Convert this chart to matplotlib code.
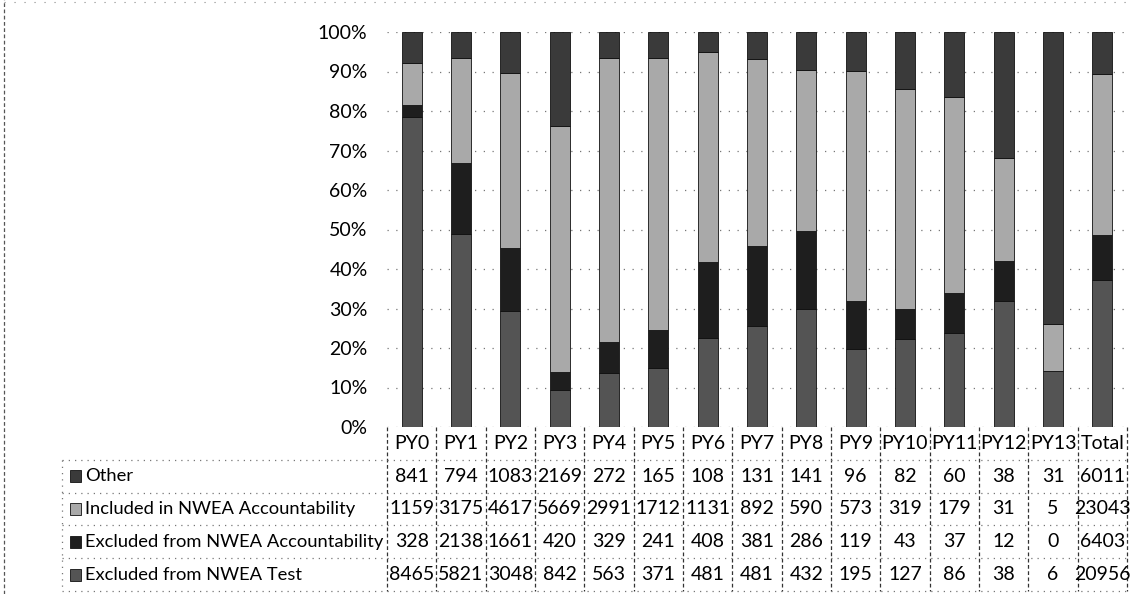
import numpy as np
import matplotlib.pyplot as plt
from matplotlib.patches import Rectangle
from matplotlib.lines import Line2D

plt.rcParams['font.family'] = ['Lato', 'DejaVu Sans']

periods = ['PY0', 'PY1', 'PY2', 'PY3', 'PY4', 'PY5', 'PY6', 'PY7',
           'PY8', 'PY9', 'PY10', 'PY11', 'PY12', 'PY13', 'Total']
other = [841, 794, 1083, 2169, 272, 165, 108, 131, 141, 96, 82, 60, 38, 31, 6011]
included = [1159, 3175, 4617, 5669, 2991, 1712, 1131, 892, 590, 573, 319, 179, 31, 5, 23043]
excl_acc = [328, 2138, 1661, 420, 329, 241, 408, 381, 286, 119, 43, 37, 12, 0, 6403]
excl_test = [8465, 5821, 3048, 842, 563, 371, 481, 481, 432, 195, 127, 86, 38, 6, 20956]

# bottom -> top stacking order
series = [
    ('Excluded from NWEA Test', excl_test, '#545454'),
    ('Excluded from NWEA Accountability', excl_acc, '#1e1e1e'),
    ('Included in NWEA Accountability', included, '#a9a9a9'),
    ('Other', other, '#3a3a3a'),
]

W, H = 1130, 594
fig = plt.figure(figsize=(W / 100, H / 100), dpi=100)

x0, x1 = 387, 1127          # plot / table column span (px)
ytop, ybot = 32, 427        # 100% and 0% (px)
ax = fig.add_axes([x0 / W, (H - ybot) / H, (x1 - x0) / W, (ybot - ytop) / H])

x = np.arange(len(periods))
totals = np.sum([s[1] for s in series], axis=0).astype(float)
bottom = np.zeros(len(periods))
for name, vals, col in series:
    frac = np.array(vals) / totals
    ax.bar(x, frac, width=0.41, bottom=bottom, color=col, edgecolor='#111111',
           linewidth=0.6, zorder=3)
    bottom += frac

ax.set_xlim(-0.5, len(periods) - 0.5)
ax.set_ylim(0, 1)
ax.set_yticks(np.arange(0, 1.01, 0.1))
ax.set_yticklabels([f'{int(round(v * 100))}%' for v in np.arange(0, 1.01, 0.1)])
ax.tick_params(axis='y', length=0, pad=14, labelsize=14)
ax.set_xticks([])
for sp in ax.spines.values():
    sp.set_visible(False)
ax.yaxis.grid(True, linestyle=(0, (1, 6)), color='#777777', linewidth=0.9, zorder=0)
ax.set_axisbelow(True)

# data table
lab_left = 62
tbot = 591
col_w = (x1 - x0) / len(periods)
tax = fig.add_axes([lab_left / W, (H - tbot) / H, (x1 - lab_left) / W, (tbot - ybot) / H])
tax.set_xlim(-0.5 - (x0 - lab_left) / col_w, len(periods) - 0.5)
tax.set_ylim(5, 0)
tax.axis('off')
xl = -0.5 - (x0 - lab_left) / col_w

rows = list(reversed(series))
dash_v = dict(color='#333333', linewidth=0.9, linestyle=(0, (3, 2)))
dot_h = dict(color='#777777', linewidth=0.9, linestyle=(0, (1, 4)))

for i, p in enumerate(periods):
    tax.text(i, 0.5, p, ha='center', va='center', fontsize=14)
for r, (name, vals, col) in enumerate(rows, start=1):
    for i, v in enumerate(vals):
        tax.text(i, r + 0.5, str(v), ha='center', va='center', fontsize=14)
    tax.add_patch(Rectangle((xl + 0.17, r + 0.32), 0.22, 0.36, facecolor=col,
                            edgecolor='#111111', linewidth=0.6, clip_on=False))
    tax.text(xl + 0.47, r + 0.5, name, ha='left', va='center', fontsize=13.2)

# grid lines of the table
for i in range(len(periods) + 1):
    tax.add_line(Line2D([i - 0.5, i - 0.5], [0, 5], clip_on=False, **dash_v))
tax.add_line(Line2D([xl, xl], [1, 5], clip_on=False, **dot_h))
for r in range(1, 6):
    tax.add_line(Line2D([xl, len(periods) - 0.5], [r, r], clip_on=False, **dot_h))

# outer chart border
fig.add_artist(Line2D([4 / W, 4 / W], [0, 1], color='#555555', linewidth=0.9,
                      linestyle=(0, (3, 2))))
fig.add_artist(Line2D([4 / W, 1], [1 - 2 / H, 1 - 2 / H], color='#888888',
                      linewidth=0.8, linestyle=(0, (1, 8))))

fig.savefig('out.png', dpi=100)
